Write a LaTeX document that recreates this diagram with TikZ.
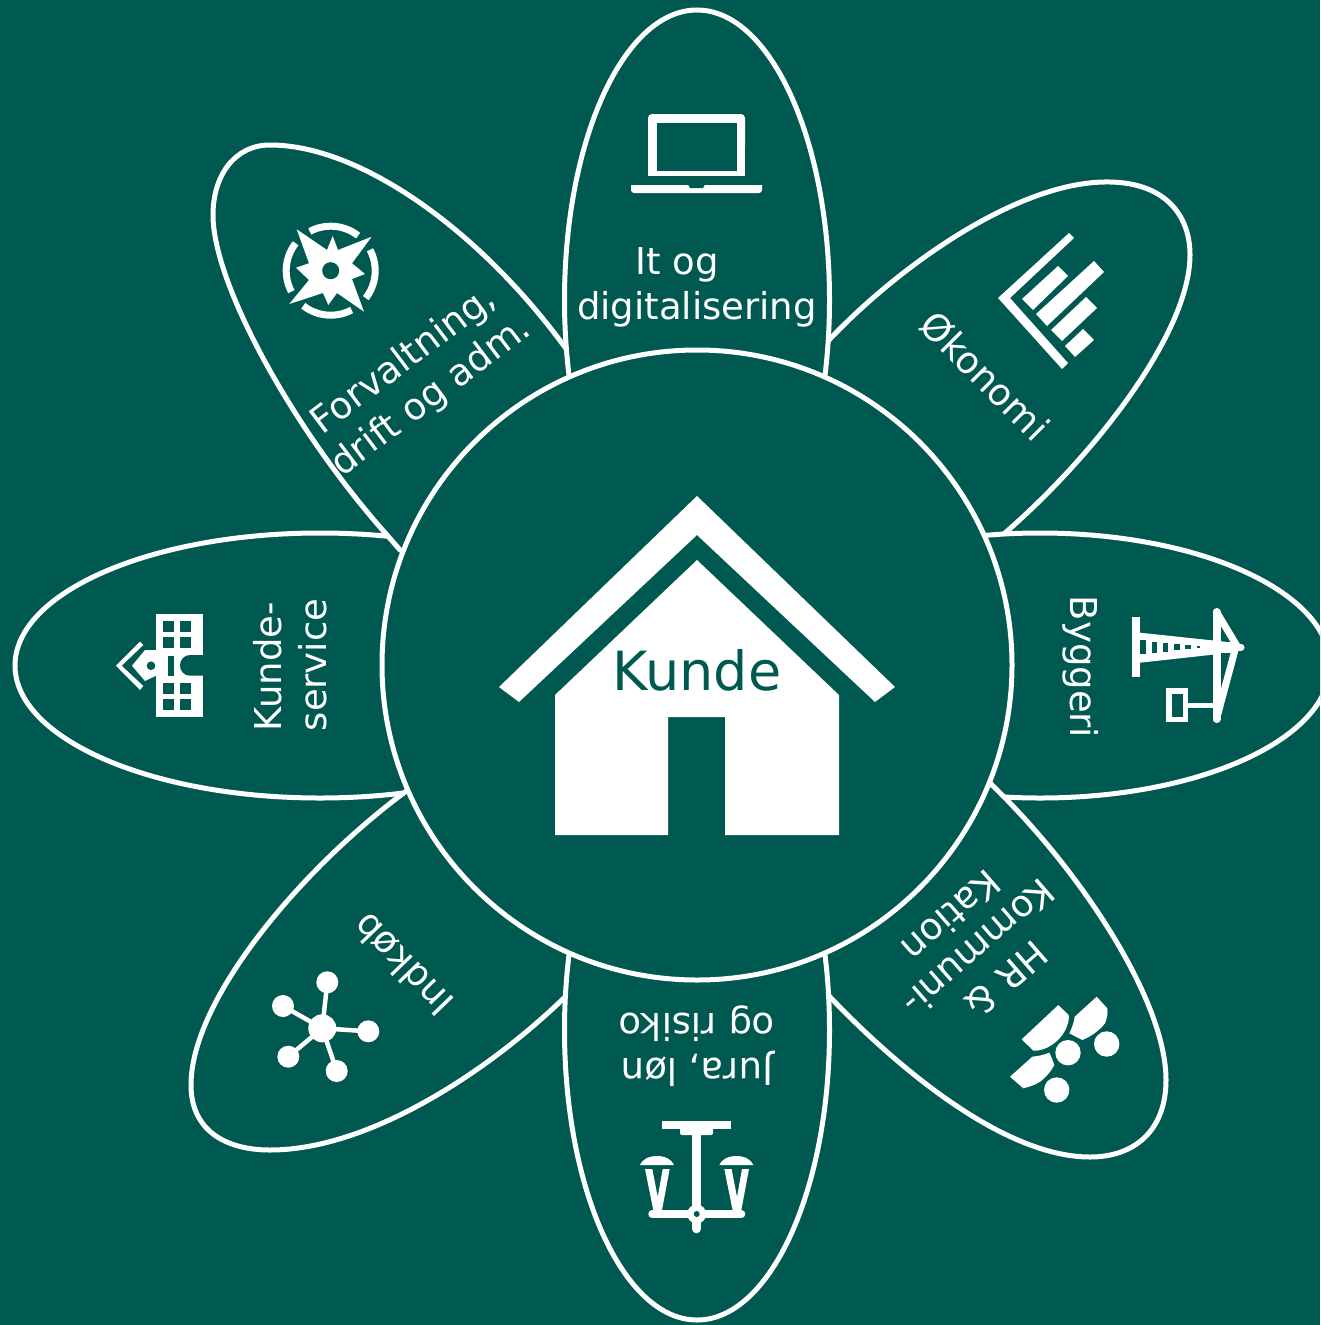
\documentclass[tikz,border=0pt]{standalone}
\usepackage{fontspec}
\setmainfont{DejaVu Sans}
\definecolor{bgc}{HTML}{005950}
\tikzset{
  petal/.style={draw=white,fill=bgc,line width=5pt},
  lbl/.style={text=white,font=\fontsize{37}{45}\selectfont,inner sep=0pt,align=center},
  wl/.style={draw=white,line cap=round,line join=round},
}
\begin{document}
\begin{tikzpicture}[x=1pt,y=-1pt]
\useasboundingbox (0,0) rectangle (1320,1325);
\clip (0,0) rectangle (1320,1325);
\fill[bgc] (0,0) rectangle (1320,1325);
% petals, in stacking order
\draw[petal] (820,350) -- (829,340) .. controls (900,265) and (1020,180) .. (1110,182) .. controls (1165,183) and (1190,215) .. (1190,255) .. controls (1190,330) and (1100,450) .. (1005,533) -- (990,548) -- (697,665) -- cycle;
\draw[petal] (320,665.5) ellipse[x radius=305,y radius=132.5];
\draw[petal] (1040,665.5) ellipse[x radius=290,y radius=132.5];
\draw[petal] (575,360) -- (567,350) .. controls (480,230) and (360,145) .. (270,145) .. controls (235,145) and (213,175) .. (213,215) .. controls (213,285) and (295,432) .. (387,535) -- (400,550) -- (697,665) -- cycle;
\draw[petal] (985,778) -- (992,785) .. controls (1080,870) and (1166,1000) .. (1166,1080) .. controls (1166,1130) and (1135,1157) .. (1090,1157) .. controls (1000,1157) and (890,1060) .. (830,997) -- (820,985) -- (697,665) -- cycle;
\draw[petal] (415,785) -- (405,792) .. controls (300,870) and (191,1000) .. (191,1085) .. controls (191,1130) and (225,1150) .. (270,1150) .. controls (370,1150) and (490,1070) .. (565,997) -- (575,985) -- (697,665) -- cycle;
\draw[petal] (697,300) ellipse[x radius=132.5,y radius=290];
\draw[petal] (697,1030) ellipse[x radius=132.5,y radius=290];
% hub
\node[circle,draw=white,fill=bgc,line width=5pt,minimum size=630pt,inner sep=0pt] (hub) at (697,665) {};
% house
\fill[white] (697,496) -- (895,687) -- (875,702) -- (697,535) -- (519,702) -- (499,687) -- cycle;
\fill[white] (697,560) -- (839,695) -- (839,835) -- (725,835) -- (725,717) -- (668,717) -- (668,835) -- (555,835) -- (555,695) -- cycle;
\node[text=bgc,font=\fontsize{54}{60}\selectfont,inner sep=0pt] (kunde) at (697,670) {Kunde};
% labels
\node[lbl] (it) at (697,287) {It og\hspace*{40pt}\\digitalisering};
\node[lbl,rotate=-45] (okonomi) at (985,376) {Økonomi};
\node[lbl,rotate=-90] (byggeri) at (1081,667) {Byggeri};
\node[lbl,rotate=221,font=\fontsize{37}{42}\selectfont] (hr) at (979,948) {HR \&\\Kommuni-\\Kation};
\node[lbl,rotate=180] (jura) at (697,1046) {Jura, løn\\og risiko};
\node[lbl,rotate=134] (indkob) at (403,965) {Indkøb};
\node[lbl,rotate=90,align=left] (service) at (290,665) {Kunde-\\service};
\node[lbl,rotate=37] (forv) at (418,379) {Forvaltning,\\drift og adm.};
% laptop
\fill[white,rounded corners=4pt] (648,150) -- (648,114) -- (745,114) -- (745,150) -- cycle;
\fill[white] (648,140) rectangle (745,180);
\fill[bgc] (657,123) rectangle (737,171);
\fill[white,rounded corners=3pt] (631,180) -- (631,193) -- (762,193) -- (762,180) -- cycle;
\fill[bgc] (625,176) rectangle (770,185);
\fill[bgc] (688,184.5) -- (705,184.5) -- (703,188) -- (690,188) -- cycle;
% economy
\fill[white] (1069,233) -- (1074,238) -- (1010,298) -- (1068,363) -- (1062,369) -- (998,298) -- cycle;
\fill[white] (1058,266) -- (1068,276) -- (1033,310) -- (1022,299) -- cycle;
\fill[white] (1094,261) -- (1104,272) -- (1047,326) -- (1036,314) -- cycle;
\fill[white] (1086,297) -- (1097,308) -- (1062,341) -- (1051,330) -- cycle;
\fill[white] (1083,329) -- (1094,340) -- (1075,357) -- (1065,346) -- cycle;
% compass
\fill[white] (296.7,229.3) -- (327,250) -- (332.7,236) -- (338,250) -- (371.7,236.7) -- (352,263.3) -- (365,274) -- (352,279) -- (364,311.7) -- (337,293) -- (328.3,305) -- (323,293) -- (289.3,304) -- (309,280) -- (296,267.7) -- (309,263.3) -- cycle;
\fill[bgc] (330.7,270.7) circle[radius=8.5];
\begin{scope}[shift={(330.7,270.7)},x=1pt,y=1pt]
\foreach \a in {85,175,265,355}{
  \draw[white,line width=7pt] (\a-33:44.5) arc[start angle=\a-33,end angle=\a+33,radius=44.5];
}
\end{scope}
% crane
\fill[white] (1132,617) rectangle (1140,677);
\fill[white] (1140,632.7) -- (1237,643) -- (1237,652) -- (1140,662.7) -- cycle;
\fill[bgc] (1140,640) rectangle (1146,654);
\fill[bgc] (1151.7,641.7) rectangle (1157.3,652.7);
\fill[bgc] (1163.3,642.7) rectangle (1168.3,651.7);
\fill[bgc] (1174,644) rectangle (1180,650);
\fill[bgc] (1185,645.3) rectangle (1190.7,649.3);
\fill[bgc] (1196.7,646.3) rectangle (1200,648.3);
\draw[wl,line width=8pt] (1216.5,612) -- (1216.5,719);
\draw[wl,line width=7pt] (1216.5,612) -- (1237,646);
\draw[wl,line width=7pt] (1235,650) -- (1216.5,719);
\draw[wl,line width=7pt] (1216,647) -- (1241,647);
\fill[bgc] (1221,632) -- (1225,640) -- (1221,640) -- cycle;
\fill[bgc] (1221,653) -- (1228,653) -- (1221,680) -- cycle;
\fill[white] (1166,688) rectangle (1188,722);
\fill[bgc] (1172,694) rectangle (1183,717);
\fill[white] (1188,703) rectangle (1213,708);
% people
\fill[white] (1106.7,1044) circle[radius=12.7] (1068,1052.7) circle[radius=12.7] (1056.7,1090) circle[radius=12.7];
\fill[white] (1058.3,1005) -- (1068.7,1015) .. controls (1070,1024) and (1063,1038) .. (1051.7,1045) .. controls (1046,1049) and (1039,1051) .. (1033.3,1050.7) -- (1021.7,1039.3) -- cycle;
\fill[white] (1096.7,996.7) -- (1107.3,1008.3) .. controls (1108,1014) and (1107,1019) .. (1105,1023.3) .. controls (1099,1031) and (1090,1037) .. (1082.3,1040) -- (1069.3,1033.3) .. controls (1072,1028) and (1074,1022) .. (1074.7,1016.7) -- cycle;
\fill[white] (1032.3,1056.7) .. controls (1038,1056) and (1044,1055) .. (1049.3,1052.7) .. controls (1051,1056) and (1053,1061) .. (1054.3,1065) .. controls (1050,1073) and (1045,1078) .. (1040,1081.7) .. controls (1035,1085) and (1029,1087) .. (1023.3,1088.3) -- (1010,1076.7) -- cycle;
% lamp
\fill[white] (662.3,1120.7) rectangle (730.7,1129);
\fill[white,rounded corners=2pt] (680,1125) rectangle (713,1135);
\draw[wl,line width=8.5pt] (696.7,1130) -- (696.7,1229);
\draw[wl,line width=7.5pt] (652,1214) -- (741.5,1214);
\fill[white] (696.7,1214) circle[radius=9.5];
\fill[bgc] (696.7,1214) circle[radius=3];
\foreach \d in {0,79.3}{
  \fill[white,shift={(\d,0)}] (640,1165) .. controls (642,1160) and (648,1156) .. (657,1156) .. controls (666,1156) and (672,1160) .. (674,1165) -- cycle;
  \fill[white,shift={(\d,0)}] (645,1169) -- (652.3,1169) -- (657.7,1197) -- (662.7,1169) -- (669.7,1169) -- (662,1210) -- (653.3,1210) -- cycle;
}
% building
\fill[white] (155.7,614.3) rectangle (203.3,716.7);
\fill[bgc] (203.4,655) -- (190,655) .. controls (184,655) and (180,660) .. (180,665.3) .. controls (180,671) and (184,675.7) .. (190,675.7) -- (203.4,675.7) -- cycle;
\fill[bgc] (168.3,656) rectangle (174,675.7);
\foreach \wy in {620.7,637.3,682.7,699.3}{
  \fill[bgc] (162.7,\wy) rectangle +(11.3,11);
  \fill[bgc] (180,\wy) rectangle +(11,11);
}
\fill[white] (156,650) -- (145,650) -- (132,665.7) -- (145,681) -- (156,675.7) -- cycle;
\fill[bgc] (151,665.7) circle[radius=4.3];
\fill[white] (140,641.7) -- (143.3,645) -- (121.7,665.7) -- (143.3,686) -- (140,690) -- (116,665.7) -- cycle;
% network
\foreach \nx/\ny in {327.3/982.3,283/1006,368.3/1031.3,288.3/1056.7,336.7/1071}{
  \draw[white,line width=4.5pt] (322.3,1028.3) -- (\nx,\ny);
  \fill[white] (\nx,\ny) circle[radius=11];
}
\fill[white] (322.3,1028.3) circle[radius=14];
\end{tikzpicture}
\end{document}
